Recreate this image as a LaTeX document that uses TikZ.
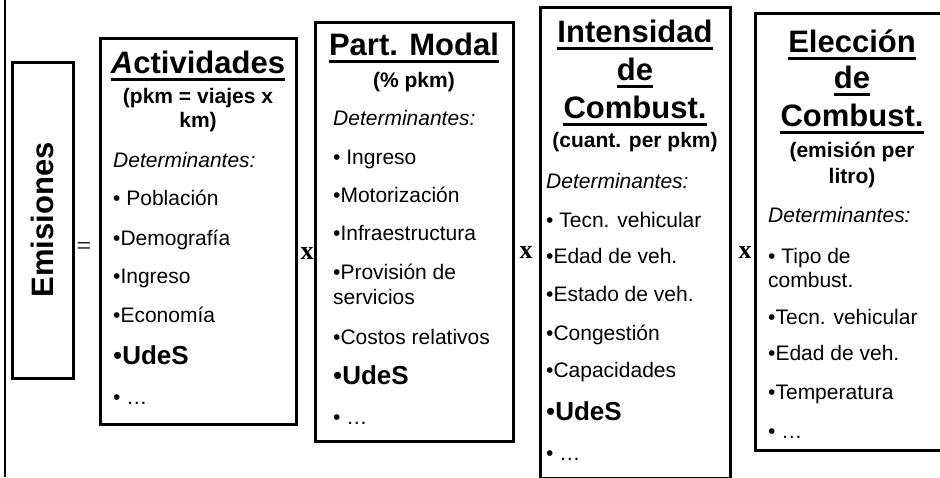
\documentclass[tikz,border=0pt]{standalone}
\usepackage{fontspec}
\setmainfont{Liberation Sans}
\newfontfamily\opfont{Liberation Serif}
\usetikzlibrary{positioning,calc}

\tikzset{
  box/.style={draw, line width=3pt, inner sep=0pt},
  ttl/.style={font=\fontsize{31}{31}\selectfont\bfseries, anchor=base, inner sep=0pt},
  sub/.style={font=\fontsize{21}{21}\selectfont\bfseries, anchor=base, inner sep=0pt},
  det/.style={font=\fontsize{21}{21}\selectfont\itshape, anchor=base west, inner sep=0pt},
  itm/.style={font=\fontsize{21}{21}\selectfont, anchor=base west, inner sep=0pt},
  ude/.style={font=\fontsize{26}{26}\selectfont, anchor=base west, inner sep=0pt},
  op/.style={font=\fontsize{26}{26}\selectfont\opfont, inner sep=0pt},
  uline/.style={draw=black, line width=2.5pt}
}

\begin{document}
\begin{tikzpicture}[x=1pt,y=-1pt]
  \useasboundingbox (0,0) rectangle (940,477);
  \draw[line width=2pt] (5,0) -- (5,477);

  % Emisiones
  \node[box, minimum width=61pt, minimum height=316pt] (emis) at (42.5,220) {};
  \node[ttl, anchor=center, rotate=90] (emislbl) at (42.5,220) {Emisiones};
  \node[op] (eq) at (84,249) {=};

  % Actividades
  \node[box, minimum width=196pt, minimum height=386pt] (act) at (198,231) {};
  \node[ttl] (act1) at (198,73) {{\itshape A}ctividades};
  \node[sub] (act2) at (198,103) {(pkm = viajes x};
  \node[sub] (act3) at (198,127) {km)};
  \node[det] (act4) at (113,167) {Determinantes:};
  \node[itm] (act5) at (113,205) {• Población};
  \node[itm] (act6) at (113,245) {•Demografía};
  \node[itm] (act7) at (113,283) {•Ingreso};
  \node[itm] (act8) at (113,322) {•Economía};
  \node[ude] (act9) at (113,364) {•\textbf{UdeS}};
  \node[itm] (act10) at (113,404) {• …};
  \node[op] (x1) at (307,254) {\bfseries x};

  % Part. Modal
  \node[box, minimum width=198pt, minimum height=419pt] (modal) at (414,231.5) {};
  \node[ttl] (mod1) at (414,55) {Part. Modal};
  \node[sub] (mod2) at (414,87) {(\% pkm)};
  \node[det] (mod3) at (333,125) {Determinantes:};
  \node[itm] (mod4) at (333,164) {• Ingreso};
  \node[itm] (mod5) at (333,202) {•Motorización};
  \node[itm] (mod6) at (333,240) {•Infraestructura};
  \node[itm] (mod7) at (333,279) {•Provisión de};
  \node[itm] (mod8) at (333,304) {servicios};
  \node[itm] (mod9) at (333,344) {•Costos relativos};
  \node[ude] (mod10) at (333,384) {•\textbf{UdeS}};
  \node[itm] (mod11) at (333,424) {• …};
  \node[op] (x2) at (526,253) {\bfseries x};

  % Intensidad de Combust.
  \node[box, minimum width=190pt, minimum height=471pt] (inten) at (635,242.5) {};
  \node[ttl] (int1) at (635,42) {Intensidad};
  \node[ttl] (int2) at (635,80) {de};
  \node[ttl] (int3) at (635,118) {Combust.};
  \node[sub] (int4) at (635,147) {(cuant. per pkm)};
  \node[det] (int5) at (546,188) {Determinantes:};
  \node[itm] (int6) at (546,227) {• Tecn. vehicular};
  \node[itm] (int7) at (546,263) {•Edad de veh.};
  \node[itm] (int8) at (546,301) {•Estado de veh.};
  \node[itm] (int9) at (546,340) {•Congestión};
  \node[itm] (int10) at (546,377) {•Capacidades};
  \node[ude] (int11) at (546,420) {•\textbf{UdeS}};
  \node[itm] (int12) at (546,460) {• …};
  \node[op] (x3) at (745,253) {\bfseries x};

  % Eleccion de Combust.
  \node[box, minimum width=195pt, minimum height=437pt] (elec) at (852.5,231.5) {};
  \node[ttl] (ele1) at (852,52) {Elección};
  \node[ttl] (ele2) at (852,88) {de};
  \node[ttl] (ele3) at (852,126) {Combust.};
  \node[sub] (ele4) at (852,157) {(emisión per};
  \node[sub] (ele5) at (852,183) {litro)};
  \node[det] (ele6) at (768,222) {Determinantes:};
  \node[itm] (ele7) at (768,263) {• Tipo de};
  \node[itm] (ele8) at (768,287) {combust.};
  \node[itm] (ele9) at (768,324) {•Tecn. vehicular};
  \node[itm] (ele10) at (768,360) {•Edad de veh.};
  \node[itm] (ele11) at (768,399) {•Temperatura};
  \node[itm] (ele12) at (768,438) {• …};

  % underlined titles
  \path[uline] ($(act1.base west)+(0,6.5)$) -- ($(act1.base east)+(0,6.5)$);
  \path[uline] ($(mod1.base west)+(0,6.5)$) -- ($(mod1.base east)+(0,6.5)$);
  \path[uline] ($(int1.base west)+(0,6.5)$) -- ($(int1.base east)+(0,6.5)$);
  \path[uline] ($(int2.base west)+(0,6.5)$) -- ($(int2.base east)+(0,6.5)$);
  \path[uline] ($(int3.base west)+(0,6.5)$) -- ($(int3.base east)+(0,6.5)$);
  \path[uline] ($(ele1.base west)+(0,6.5)$) -- ($(ele1.base east)+(0,6.5)$);
  \path[uline] ($(ele2.base west)+(0,6.5)$) -- ($(ele2.base east)+(0,6.5)$);
  \path[uline] ($(ele3.base west)+(0,6.5)$) -- ($(ele3.base east)+(0,6.5)$);
\end{tikzpicture}
\end{document}
